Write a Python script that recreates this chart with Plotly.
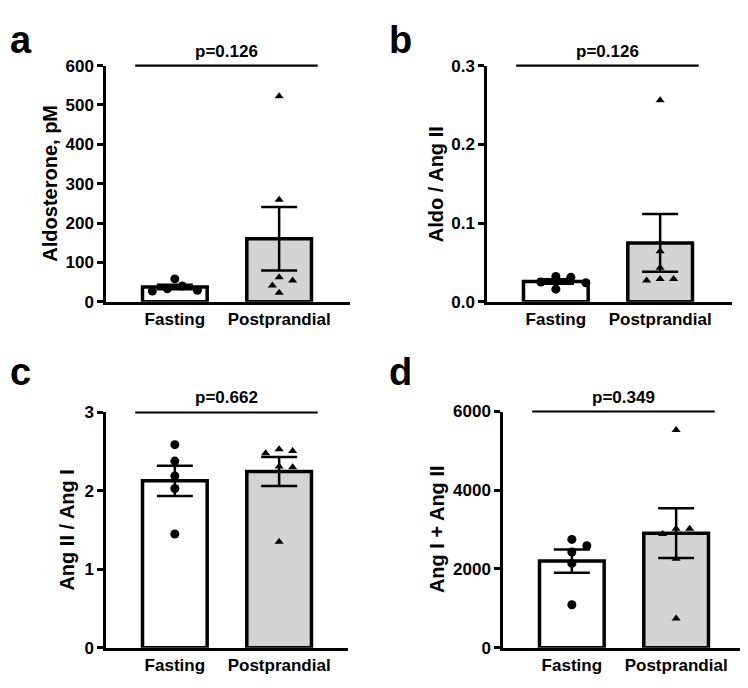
import numpy as np
import plotly.graph_objects as go

# ---------------- data ----------------
groups = ["Fasting", "Postprandial"]

aldo_fasting = [58, 40, 33, 29, 27]
aldo_post = [522, 259, 62, 54, 41, 23]

ratio_aldo_fasting = [0.032, 0.031, 0.025, 0.024, 0.016]
ratio_aldo_post = [0.256, 0.064, 0.043, 0.029, 0.027, 0.029]

ang_ratio_fasting = [2.59, 2.38, 2.19, 2.03, 1.45]
ang_ratio_post = [2.53, 2.48, 2.51, 2.31, 2.30, 1.35]

ang_sum_fasting = [2750, 2590, 2430, 2140, 1090]
ang_sum_post = [5530, 3020, 3020, 2890, 2260, 740]

p_values = ["p=0.126", "p=0.126", "p=0.662", "p=0.349"]
panel_letters = ["a", "b", "c", "d"]
y_titles = ["Aldosterone, pM", "Aldo / Ang II", "Ang II / Ang I", "Ang I + Ang II"]
y_ticks = [
    [0, 100, 200, 300, 400, 500, 600],
    [0.0, 0.1, 0.2, 0.3],
    [0, 1, 2, 3],
    [0, 2000, 4000, 6000],
]
y_tick_format = ["d", ".1f", "d", "d"]

# ---------------- layout ----------------
# The page body adds an 8px margin, so the figure is sized to make the page
# fit the window exactly; positions below are given in window pixels.
OFF = 8
W, H = 748 - 2 * OFF, 688 - 2 * OFF
FONT = "Liberation Sans, Arial, Helvetica, sans-serif"
# panel boxes in window pixels: x0, x1, ytop, ybottom
boxes = [
    (106, 350, 58, 301),
    (487, 732, 58, 301),
    (106, 348, 415, 657),
    (503, 740, 414, 657),
]
X_LEFT = -0.66
PPU_X = 104.3
letter_x = [8, 387, 8, 387]
letter_y = [None, None, 373, 373]   # None -> pinned to the top edge
title_x = [50, 435.5, 67.5, 436.5]

datasets = [
    (aldo_fasting, aldo_post),
    (ratio_aldo_fasting, ratio_aldo_post),
    (ang_ratio_fasting, ang_ratio_post),
    (ang_sum_fasting, ang_sum_post),
]

fills = ["#ffffff", "#d4d4d4"]
symbols = ["circle", "triangle-up"]
msizes = [9, 8]


def fx(px):
    return min(max((px - OFF) / W, 0), 1)


def fy(py):
    return min(max(1 - (py - OFF) / H, 0), 1)


def swarm(vals, ppu_x, ppu_y, diam):
    order = sorted(range(len(vals)), key=lambda i: -vals[i])
    placed = []
    offs = [0.0] * len(vals)
    step = diam * 0.75
    cands = [0.0]
    for j in range(1, 12):
        cands += [j * step, -j * step]
    for i in order:
        y = vals[i] * ppu_y
        for c in cands:
            if all((c - px) ** 2 + (y - py) ** 2 >= diam ** 2 for px, py in placed):
                break
        placed.append((c, y))
        offs[i] = c / ppu_x
    return offs


fig = go.Figure()
annotations = []
shapes = []

for k in range(4):
    x0, x1, yt, yb = boxes[k]
    sfx = "" if k == 0 else str(k + 1)
    xa, ya = "x" + sfx, "y" + sfx
    ymax = y_ticks[k][-1]
    xr = [X_LEFT, X_LEFT + (x1 - x0) / PPU_X]
    ppu_y = (yb - yt) / ymax

    for g in range(2):
        vals = np.array(datasets[k][g], dtype=float)
        mean = vals.mean()
        sem = vals.std(ddof=1) / np.sqrt(len(vals))
        fig.add_trace(go.Bar(
            x=[g], y=[mean], width=0.62,
            marker=dict(color=fills[g], line=dict(color="black", width=3.5)),
            error_y=dict(type="data", array=[sem], visible=True,
                         color="black", thickness=2.5, width=18),
            xaxis=xa, yaxis=ya, showlegend=False, hoverinfo="skip",
        ))
    for g in range(2):
        vals = datasets[k][g]
        offs = swarm(vals, PPU_X, ppu_y, msizes[g] + 1)
        fig.add_trace(go.Scatter(
            x=[g + o for o in offs], y=vals, mode="markers",
            marker=dict(symbol=symbols[g], size=msizes[g], color="black"),
            xaxis=xa, yaxis=ya, showlegend=False, cliponaxis=False,
        ))

    fig.update_layout(**{
        ("xaxis" + sfx): dict(
            domain=[fx(x0), fx(x1)], range=xr, anchor=ya, showline=True,
            linewidth=2.5, linecolor="black", showgrid=False, zeroline=False,
            ticks="", tickvals=[0, 1], ticktext=groups,
            tickfont=dict(family=FONT, size=17, color="black", weight="bold"),
            fixedrange=True,
        ),
        ("yaxis" + sfx): dict(
            domain=[fy(yb), fy(yt)], range=[0, ymax], anchor=xa, showline=True,
            linewidth=2.5, linecolor="black", showgrid=False, zeroline=False,
            ticks="outside", ticklen=6, tickwidth=2.5, tickcolor="black",
            tickvals=y_ticks[k], tickformat=y_tick_format[k],
            tickfont=dict(family=FONT, size=17, color="black", weight="bold"),
            fixedrange=True,
        ),
    })

    # significance bar and p-value
    shapes.append(dict(type="line", xref=xa, yref=ya + " domain",
                       x0=-0.38, x1=1.37, y0=1, y1=1,
                       line=dict(color="black", width=2.2)))
    annotations.append(dict(text=p_values[k], xref=xa, yref=ya + " domain",
                            x=0.5, y=1, xanchor="center", yanchor="bottom",
                            showarrow=False, yshift=3,
                            font=dict(family=FONT, size=17, color="black",
                                      weight="bold")))
    # y-axis title
    annotations.append(dict(text=y_titles[k], xref="paper", yref="paper",
                            x=fx(title_x[k]), y=fy((yt + yb) / 2),
                            xanchor="center", yanchor="middle", textangle=-90,
                            showarrow=False,
                            font=dict(family=FONT, size=20, color="black",
                                      weight="bold")))
    # panel letter
    ly = letter_y[k]
    annotations.append(dict(text=panel_letters[k], xref="paper", yref="paper",
                            x=fx(letter_x[k]),
                            y=1 if ly is None else fy(ly),
                            xanchor="left",
                            yanchor="top" if ly is None else "middle",
                            showarrow=False,
                            font=dict(family=FONT, size=38, color="black",
                                      weight="bold")))

fig.update_layout(
    width=W, height=H, margin=dict(l=0, r=0, t=0, b=0),
    paper_bgcolor="white", plot_bgcolor="white",
    barmode="overlay", annotations=annotations, shapes=shapes,
)

fig.write_html("out.html")
